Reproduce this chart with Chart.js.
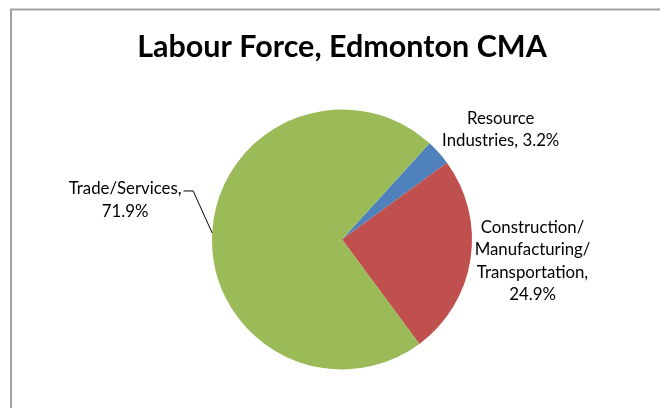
<!DOCTYPE html>
<html>
<head>
<meta charset="utf-8">
<title>Labour Force, Edmonton CMA</title>
<script src="https://cdn.jsdelivr.net/npm/chart.js@4.4.1/dist/chart.umd.min.js"></script>
<style>
  html, body { margin: 0; padding: 0; background: #fff; }
  #wrap { width: 660px; height: 408px; position: relative; }
</style>
</head>
<body>
<div id="wrap"><canvas id="laborChart"></canvas></div>
<script>
// Labour force shares by sector (percent)
const sectors = ['Resource Industries', 'Construction/Manufacturing/Transportation', 'Trade/Services'];
const shares = [3.2, 24.9, 71.9];
const sliceColors = ['#4F81BD', '#C0504D', '#9BBB59'];

// Label text, broken into lines the way they are set on the chart
const labelLines = [
  ['Resource', 'Industries, 3.2%'],
  ['Construction/', 'Manufacturing/', 'Transportation,', '24.9%'],
  ['Trade/Services,', '71.9%']
];

// Where each label block sits relative to the middle of its slice's rim
const labelLayout = [
  { dx: 62, dy: -23 },
  { dx: 62, dy: 2 },
  { dx: -87, dy: -33, leader: { dx: -19, dy: -42 } }
];

const TITLE = 'Labour Force, Edmonton CMA';
const FONT = 'Lato, "Open Sans", sans-serif';

// Frame around the chart area, as exported from the spreadsheet
const framePlugin = {
  id: 'frame',
  beforeDraw(chart) {
    const ctx = chart.ctx;
    ctx.save();
    ctx.strokeStyle = '#a0a0a0';
    ctx.lineWidth = 2;
    ctx.strokeRect(11, 9.5, chart.width + 20, chart.height + 20);
    ctx.restore();
  }
};

const titlePlugin = {
  id: 'bigTitle',
  afterDraw(chart) {
    const ctx = chart.ctx;
    const area = chart.chartArea;
    ctx.save();
    ctx.fillStyle = '#000';
    ctx.font = 'bold 30.5px ' + FONT;
    ctx.textAlign = 'center';
    ctx.textBaseline = 'alphabetic';
    ctx.fillText(TITLE, (area.left + area.right) / 2, 57);
    ctx.restore();
  }
};

// Outside-end data labels with a leader line where the label is pulled away
const sliceLabelPlugin = {
  id: 'sliceLabels',
  afterDatasetsDraw(chart) {
    const ctx = chart.ctx;
    const meta = chart.getDatasetMeta(0);
    const lineH = 22.5;
    ctx.save();
    ctx.font = '16.8px ' + FONT;
    ctx.fillStyle = '#000';
    ctx.textAlign = 'center';
    ctx.textBaseline = 'middle';
    meta.data.forEach((arc, i) => {
      const mid = (arc.startAngle + arc.endAngle) / 2;
      const ex = arc.x + Math.cos(mid) * arc.outerRadius;
      const ey = arc.y + Math.sin(mid) * arc.outerRadius;
      const lay = labelLayout[i];
      const cx = ex + lay.dx;
      const cy = ey + lay.dy;
      const lines = labelLines[i];
      const top = cy - (lines.length - 1) * lineH / 2;
      lines.forEach((t, k) => ctx.fillText(t, cx, top + k * lineH));

      if (lay.leader) {
        const w = ctx.measureText(lines[0]).width;
        const bx = ex + lay.leader.dx;
        const by = ey + lay.leader.dy;
        ctx.beginPath();
        ctx.strokeStyle = '#000';
        ctx.lineWidth = 1;
        ctx.moveTo(cx + w / 2 + 2, by);
        ctx.lineTo(bx, by);
        ctx.lineTo(ex, ey);
        ctx.stroke();
      }
    });
    ctx.restore();
  }
};

new Chart(document.getElementById('laborChart'), {
  type: 'pie',
  data: {
    labels: sectors,
    datasets: [{
      data: shares,
      backgroundColor: sliceColors,
      borderWidth: 0
    }]
  },
  options: {
    responsive: true,
    maintainAspectRatio: false,
    animation: false,
    rotation: 42.3,
    layout: {
      padding: { top: 109.5, bottom: 38.5, left: 212, right: 188 }
    },
    plugins: {
      legend: { display: false },
      title: { display: false },
      tooltip: { enabled: false }
    }
  },
  plugins: [framePlugin, titlePlugin, sliceLabelPlugin]
});
</script>
</body>
</html>
